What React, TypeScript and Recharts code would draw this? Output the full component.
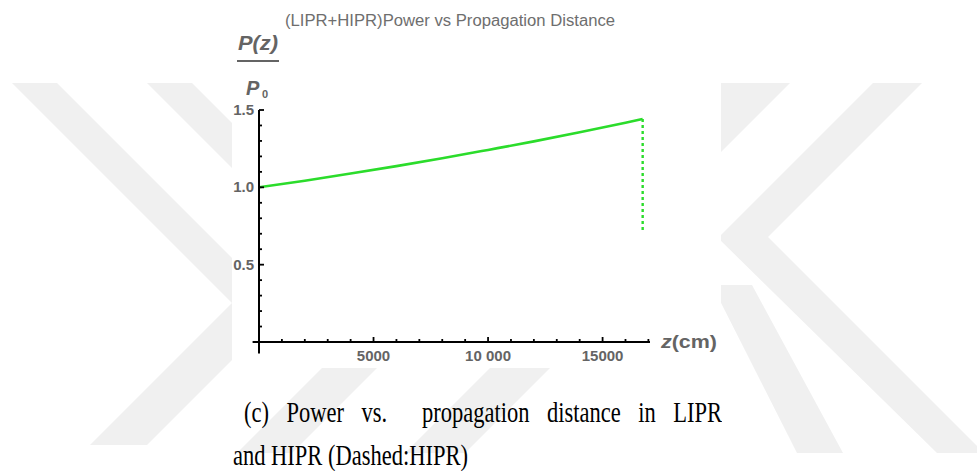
import React from "react";
import { LineChart, Line, XAxis, YAxis, ReferenceLine } from "recharts";

// propagation distance z (cm) and normalised power P(z)/P0
const zValues = [0, 2000, 4000, 6000, 8000, 10000, 12000, 14000, 16000, 16750];
const liprPower = [1.0, 1.043, 1.089, 1.137, 1.188, 1.242, 1.297, 1.356, 1.418, 1.442];

// HIPR segment (dashed drop at the end of the run)
const hiprZ = [16750, 16750];
const hiprPower = [1.442, 0.708];

const xTicks = [1000, 2000, 3000, 4000, 5000, 6000, 7000, 8000, 9000, 10000, 11000, 12000, 13000, 14000, 15000, 16000, 17000];
const xTickLabels: Record<string, string> = { 5000: "5000", 10000: "10 000", 15000: "15000" };

const yTicks = [0.1, 0.2, 0.3, 0.4, 0.5, 0.6, 0.7, 0.8, 0.9, 1, 1.1, 1.2, 1.3, 1.4, 1.5];
const yTickLabels: Record<string, string> = { 0.5: "0.5", 1: "1.0", 1.5: "1.5" };

const liprData = zValues.map((z, i) => ({ z, p: liprPower[i] }));
const hiprData = hiprZ.map((z, i) => ({ z, p: hiprPower[i] }));

const GREEN = "#2bdc2b";
const LABEL = "#646464";
const SANS = "'Liberation Sans', Arial, sans-serif";
const SERIF = "'Liberation Serif', 'Times New Roman', serif";

function XTick(props: any) {
  const { x, y, payload } = props;
  const label = xTickLabels[String(payload.value)];
  return (
    <g>
      <line x1={x} y1={y} x2={x} y2={y - (label ? 5 : 3)} stroke="#000" strokeWidth={1.8} />
      {label && (
        <text x={x} y={y + 19} textAnchor="middle" fontFamily={SANS} fontSize={15} fontWeight="bold" fill={LABEL}>
          {label}
        </text>
      )}
    </g>
  );
}

function YTick(props: any) {
  const { x, y, payload } = props;
  const label = yTickLabels[String(payload.value)];
  return (
    <g>
      <line x1={x} y1={y} x2={x + (label ? 5 : 3)} y2={y} stroke="#000" strokeWidth={1.8} />
      {label && (
        <text x={x - 5} y={y + 5} textAnchor="end" fontFamily={SANS} fontSize={15} fontWeight="bold" fill={LABEL}>
          {label}
        </text>
      )}
    </g>
  );
}

// faint diagonal background stripes
const stripes = [
  "12,83 57,83 240,266 240,311",
  "147,83 192,83 240,131 240,176",
  "90,445 147,445 240,352 240,295",
  "237,453 292,453 380,365 325,365",
  "405,453 465,453 555,363 495,363",
  "719,83 790,83 650,223 579,223",
  "873,83 922,83 768,237 977,446 977,453 937,453 718,238",
  "712,285 752,285 843,453 797,453",
];

const captionStyle: React.CSSProperties = {
  position: "absolute",
  fontFamily: SERIF,
  fontSize: 22.5,
  lineHeight: "24px",
  color: "#000",
  transform: "scaleY(1.28)",
  transformOrigin: "0 19.6px",
};

export default function App() {
  return (
    <div style={{ position: "absolute", left: 0, top: 0, width: 977, height: 471, background: "#fff", overflow: "hidden" }}>
      <svg width={977} height={471} style={{ position: "absolute", left: 0, top: 0 }}>
        {stripes.map((pts, i) => (
          <polygon key={i} points={pts} fill="#f0f0f0" />
        ))}
      </svg>

      <div style={{ position: "absolute", left: 232, top: 0, width: 489, height: 368, background: "#fff" }} />

      <div style={{ position: "absolute", left: 232, top: 0 }}>
        <LineChart width={490} height={368} margin={{ top: 110, right: 72, left: 0, bottom: 0 }}>
          <XAxis
            type="number"
            dataKey="z"
            domain={[0, 17070]}
            allowDataOverflow
            ticks={xTicks}
            interval={0}
            height={26}
            tickSize={0}
            tickMargin={0}
            tickLine={false}
            tick={<XTick />}
            axisLine={{ stroke: "#000", strokeWidth: 2 }}
          />
          <YAxis
            type="number"
            dataKey="p"
            domain={[0, 1.5]}
            allowDataOverflow
            ticks={yTicks}
            interval={0}
            width={27}
            tickSize={0}
            tickMargin={0}
            tickLine={false}
            tick={<YTick />}
            axisLine={{ stroke: "#000", strokeWidth: 2 }}
          />
          {/* axes cross slightly past the origin */}
          <ReferenceLine segment={[{ x: -280, y: 0 }, { x: 0, y: 0 }]} stroke="#000" strokeWidth={2} ifOverflow="visible" />
          <ReferenceLine segment={[{ x: 0, y: 0 }, { x: 0, y: -0.075 }]} stroke="#000" strokeWidth={2} ifOverflow="visible" />
          <Line
            data={liprData}
            dataKey="p"
            type="monotone"
            stroke={GREEN}
            strokeWidth={2.6}
            dot={false}
            isAnimationActive={false}
          />
          <Line
            data={hiprData}
            dataKey="p"
            type="linear"
            stroke={GREEN}
            strokeWidth={2.4}
            strokeDasharray="3 3"
            dot={false}
            isAnimationActive={false}
          />
        </LineChart>
      </div>

      <svg width={977} height={471} style={{ position: "absolute", left: 0, top: 0, pointerEvents: "none" }}>
        <text x={285} y={26} fontFamily={SANS} fontSize={16} fill="#6e6e6e" textLength={330} lengthAdjust="spacingAndGlyphs">
          (LIPR+HIPR)Power vs Propagation Distance
        </text>
        <text x={238} y={50} fontFamily={SANS} fontSize={20} fontWeight="bold" fontStyle="italic" fill={LABEL} textLength={40} lengthAdjust="spacingAndGlyphs">
          P(z)
        </text>
        <rect x={237} y={60} width={42} height={2} fill={LABEL} />
        <text x={246} y={95} fontFamily={SANS} fontSize={20} fontWeight="bold" fontStyle="italic" fill={LABEL}>
          P
        </text>
        <text x={262} y={98} fontFamily={SANS} fontSize={11} fontWeight="bold" fill={LABEL}>
          0
        </text>
        <text x={661} y={348} fontFamily={SANS} fontSize={19} fontWeight="bold" fill={LABEL} textLength={56} lengthAdjust="spacingAndGlyphs">
          <tspan fontStyle="italic">z</tspan>(cm)
        </text>
      </svg>

      <div style={{ ...captionStyle, left: 244, top: 403.4, width: 478, textAlign: "justify", textAlignLast: "justify" }}>
        (c) Power vs.&nbsp; propagation distance in LIPR
      </div>
      <div style={{ ...captionStyle, left: 233, top: 446.4, whiteSpace: "nowrap" }}>
        and HIPR (Dashed:HIPR)
      </div>
    </div>
  );
}
